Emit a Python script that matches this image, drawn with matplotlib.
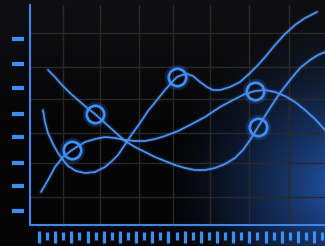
import numpy as np
import matplotlib
matplotlib.use("Agg")
import matplotlib.pyplot as plt
import matplotlib.transforms as mtransforms

# ---- data (x: horizontal position units, y: value units) ----
curve_a_x = [11, 18, 25, 33, 42, 55, 65, 75, 85, 95, 105, 115, 125, 135, 148, 160, 175, 190,
             205, 215, 225, 235, 245, 255, 265, 275, 285, 295]
curve_a_y = [33, 45, 58, 68, 75, 83, 86, 88, 87, 85, 84, 84, 86, 89, 94, 100, 108, 118,
             126, 131, 134, 135, 133, 129, 123, 115, 106, 95]

curve_d_x = [13, 15, 18, 23, 28, 33, 38, 46, 55, 65, 75, 82, 88, 94, 102, 110, 118, 127,
             135, 142, 147, 152, 157, 163, 170, 177, 183, 190, 200, 210, 220, 228, 236,
             245, 255, 265, 275, 287]
curve_d_y = [115, 103, 92, 81, 72, 65, 59, 54, 52, 53, 58, 64, 70, 79, 91, 102, 114, 125,
             135, 143, 148, 150, 151, 149, 143, 138, 135, 135, 138, 143, 152, 160, 169,
             180, 191, 200, 207, 213]

curve_c_x = [18, 25, 32, 40, 48, 56, 65, 75, 85, 95, 105, 115, 125, 135, 145, 155, 165,
             175, 185, 195, 205, 213, 220, 228, 235, 242, 250, 260, 270, 280, 288, 295]
curve_c_y = [155, 148, 140, 132, 125, 118, 111, 102, 93, 84, 78, 73, 68, 64, 60, 57, 55,
             55, 57, 61, 67, 75, 85, 98, 109, 120, 132, 145, 157, 165, 170, 173]

marker_x = [42, 65, 147, 225, 228]
marker_y = [75, 111, 148, 134, 98]

grid_x = [33, 70, 109, 143, 180, 219, 259]
grid_y = [28, 62, 92, 126, 158, 192]
dash_y = [14, 39, 62, 88, 111, 137, 161, 186]
bar_x = [9 + 8.09 * i for i in range(36)]

BLUE = "#4d93ee"

fig = plt.figure(figsize=(3.25, 2.46), dpi=100)

# background gradient
H, W = 246, 325
yy, xx = np.mgrid[0:H, 0:W].astype(float)
d = np.sqrt((xx - 345) ** 2 + ((yy - 185) * 1.05) ** 2)
blue = np.clip(1 - d / 180, 0, 1) ** 1.5
top = np.clip(1 - yy / 130, 0, 1) * 0.04
img = np.zeros((H, W, 3))
img[..., 0] = 0.02 + top + blue * 0.12
img[..., 1] = 0.02 + top + blue * 0.33
img[..., 2] = 0.025 + top * 1.1 + blue * 0.68
bg = fig.add_axes([0, 0, 1, 1])
bg.imshow(np.clip(img, 0, 1), extent=[0, 1, 0, 1], aspect="auto", origin="upper")
bg.axis("off")

ax = fig.add_axes([30 / 325, 21 / 246, 295 / 325, 220 / 246])
ax.set_facecolor("none")
ax.set_xlim(0, 295)
ax.set_ylim(0, 220)
ax.set_xticks(grid_x)
ax.set_yticks(grid_y)
ax.tick_params(length=0, labelbottom=False, labelleft=False)
ax.grid(True, color="#2b2927", lw=1.0)
for s in ["top", "right"]:
    ax.spines[s].set_visible(False)
for s in ["left", "bottom"]:
    ax.spines[s].set_color("#3d86e6")
    ax.spines[s].set_linewidth(1.5)

for cx, cy in [(curve_a_x, curve_a_y), (curve_d_x, curve_d_y), (curve_c_x, curve_c_y)]:
    ax.plot(cx, cy, color="#2f6fd8", lw=3.2, alpha=0.22, solid_capstyle="round", zorder=3)
    ax.plot(cx, cy, color=BLUE, lw=1.25, solid_capstyle="round", zorder=4)

ax.plot(marker_x, marker_y, "o", ms=15, mfc="none", mec="#2f6fd8", mew=3.2, alpha=0.25, zorder=5)
ax.plot(marker_x, marker_y, "o", ms=12.5, mfc="none", mec="#3f8ff8", mew=2.0, zorder=6)

# left dashes
tl = mtransforms.blended_transform_factory(ax.transAxes, ax.transData)
ax.plot([-0.04] * len(dash_y), dash_y, "_", ms=8, mew=3, color="#3d8ef2",
        transform=tl, clip_on=False, zorder=6)

# bottom bars
tb = mtransforms.blended_transform_factory(ax.transData, ax.transAxes)
for i, bx in enumerate(bar_x):
    if i % 2 == 0:
        y0, y1 = -0.082, -0.025
    else:
        y0, y1 = -0.068, -0.030
    ax.plot([bx, bx], [y0, y1], color="#3d8ef2", lw=2.3, solid_capstyle="butt",
            transform=tb, clip_on=False, zorder=6)

fig.savefig("out.png", dpi=100)
